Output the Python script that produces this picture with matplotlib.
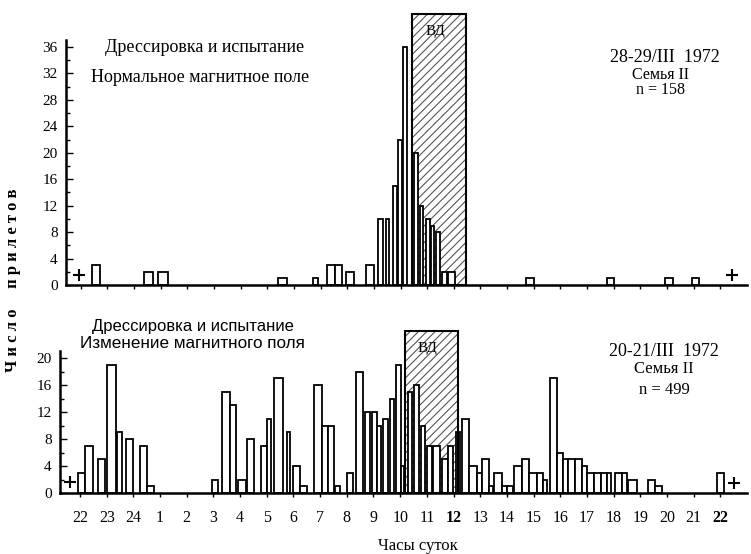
import matplotlib
matplotlib.use("Agg")
import matplotlib.pyplot as plt

plt.rcParams['font.family'] = ['Liberation Serif', 'DejaVu Serif']
plt.rcParams['hatch.linewidth'] = 0.8

# hours counted from 22:00 (0 = 22, 24 = 22 next day)
hour_labels = ['22', '23', '24', '1', '2', '3', '4', '5', '6', '7', '8', '9', '10',
               '11', '12', '13', '14', '15', '16', '17', '18', '19', '20', '21', '22']

# upper panel: 28-29/III, normal magnetic field
up_t0 = [0.41, 2.36, 2.92, 7.42, 8.70, 9.26, 9.56, 9.94, 10.69, 11.17, 11.44, 11.70,
         11.92, 12.11, 12.49, 12.75, 12.94, 13.15, 13.35, 13.54, 13.80, 16.69, 19.76,
         21.93, 22.95]
up_t1 = [0.71, 2.70, 3.26, 7.76, 8.92, 9.56, 9.82, 10.24, 10.99, 11.36, 11.55, 11.85,
         12.07, 12.26, 12.64, 12.86, 13.12, 13.27, 13.50, 13.76, 14.06, 16.99, 20.02,
         22.24, 23.21]
up_n = [3, 2, 2, 1, 1, 3, 3, 2, 3, 10, 10, 15,
        22, 36, 20, 12, 10, 9, 8, 2, 2, 1, 1,
        1, 1]
up_cross_t = [-0.07, 24.45]
up_cross_n = [1.5, 1.5]
up_vd = (12.45, 14.47, 41)

# lower panel: 20-21/III, changed magnetic field
lo_t0 = [-0.07, 0.19, 0.67, 1.01, 1.39, 1.72, 2.25, 2.51, 4.95, 5.32, 5.62, 5.92,
         6.26, 6.79, 7.01, 7.27, 7.76, 7.99, 8.25, 8.77, 9.07, 9.30, 9.56, 10.01,
         10.35, 10.69, 10.95, 11.14, 11.36, 11.62, 11.85, 12.04, 12.30, 12.52, 12.79,
         13.01, 13.24, 13.57, 13.80, 14.10, 14.32, 14.59, 14.89, 15.07, 15.34, 15.52,
         15.82, 16.01, 16.27, 16.57, 16.84, 17.14, 17.36, 17.62, 17.89, 18.11, 18.30,
         18.56, 18.82, 19.01, 19.27, 19.54, 19.76, 20.06, 20.32, 20.55, 21.30, 21.56,
         23.89]
lo_t1 = [0.19, 0.49, 0.94, 1.35, 1.57, 1.99, 2.51, 2.77, 5.17, 5.62, 5.85, 6.22,
         6.52, 7.01, 7.16, 7.61, 7.87, 8.25, 8.51, 9.07, 9.30, 9.52, 9.75, 10.24,
         10.61, 10.87, 11.14, 11.29, 11.55, 11.77, 12.04, 12.15, 12.45, 12.71, 12.94,
         13.20, 13.50, 13.80, 13.99, 14.25, 14.59, 14.89, 15.07, 15.34, 15.49, 15.82,
         16.01, 16.24, 16.57, 16.84, 17.14, 17.36, 17.51, 17.89, 18.11, 18.30, 18.56,
         18.82, 19.01, 19.27, 19.54, 19.76, 19.91, 20.32, 20.51, 20.89, 21.56, 21.82,
         24.15]
lo_n = [3, 7, 5, 19, 9, 8, 7, 1, 2, 15, 13, 2,
        8, 7, 11, 17, 9, 4, 1, 16, 10, 10, 1, 3,
        18, 12, 12, 10, 11, 14, 19, 4, 15, 16, 10,
        7, 7, 5, 7, 9, 11, 4, 3, 5, 1, 3,
        1, 1, 4, 5, 3, 3, 2, 17, 6, 5, 5,
        5, 4, 3, 3, 3, 3, 3, 3, 2, 2, 1,
        3]
lo_cross_t = [-0.37, 24.5]
lo_cross_n = [1.6, 1.5]
lo_vd = (12.19, 14.17, 24)

W, H = 751, 554
fig = plt.figure(figsize=(W / 100, H / 100), dpi=100)
ax1 = fig.add_axes([66 / W, 269 / H, 681 / W, 244.6 / H])
ax2 = fig.add_axes([60 / W, 61 / H, 687 / W, 141.75 / H])


def draw_panel(ax, t0, t1, n, cross_t, cross_n, vd, ymax, ytop):
    w = [b - a for a, b in zip(t0, t1)]
    # hatched "ВД" box
    ax.bar(vd[0], vd[2], width=vd[1] - vd[0], align='edge', facecolor='white',
           edgecolor='#555555', hatch='////', linewidth=0, zorder=1, clip_on=False)
    ax.bar(vd[0], vd[2], width=vd[1] - vd[0], align='edge', fill=False,
           edgecolor='black', linewidth=1.5, zorder=3, clip_on=False)
    ax.bar(t0, n, width=w, align='edge', color='white', edgecolor='black',
           linewidth=1.3, zorder=2)
    ax.plot(cross_t, cross_n, ls='none', marker='+', ms=8, mew=1.5, color='black',
            zorder=4, clip_on=False)
    ax.text((vd[0] + vd[1]) / 2 - 0.15, vd[2] - 2.6, 'ВД', ha='center', va='center',
            fontsize=11, zorder=5)
    ax.set_ylim(0, ymax)
    ax.set_yticks(range(0, ytop + 1, 4))
    ax.set_yticks(range(0, ytop + 1, 2), minor=True)
    ax.set_xticks(range(25))
    for s in ['top', 'right']:
        ax.spines[s].set_visible(False)
    for s in ['left', 'bottom']:
        ax.spines[s].set_linewidth(1.8)
    ax.tick_params(axis='y', direction='in', length=5, width=1, labelsize=11, pad=6)
    ax.tick_params(axis='y', which='minor', direction='in', length=3, width=1)
    ax.tick_params(axis='x', direction='out', length=3, width=1, labelsize=11.5)


draw_panel(ax1, up_t0, up_t1, up_n, up_cross_t, up_cross_n, up_vd, 37, 36)
ax1.set_xlim(-0.55, 25.0)
ax1.set_xticklabels([])

draw_panel(ax2, lo_t0, lo_t1, lo_n, lo_cross_t, lo_cross_n, lo_vd, 21, 20)
ax2.set_xlim(-0.75, 25.0)
ax2.set_xticklabels(hour_labels)
for i in (14, 24):
    ax2.get_xticklabels()[i].set_fontweight('bold')
ax2.tick_params(axis='x', pad=9)


def ftext(x, y, s, **kw):
    fig.text(x / W, 1 - y / H, s, ha='center', va='center', **kw)


ftext(205, 47, 'Дрессировка и испытание', fontsize=13)
ftext(200, 77, 'Нормальное магнитное поле', fontsize=13)
ftext(665, 58, '28-29/III  1972', fontsize=13)
ftext(660, 75, 'Семья II', fontsize=11.5)
ftext(660, 90, 'n = 158', fontsize=11.5)

sans = ['Liberation Sans', 'DejaVu Sans']
ftext(193, 327, 'Дрессировка и испытание', fontsize=12, family=sans)
ftext(192, 343, 'Изменение магнитного поля', fontsize=12.3, family=sans)
ftext(664, 352, '20-21/III  1972', fontsize=13)
ftext(664, 369, 'Семья II', fontsize=12)
ftext(664, 390, 'n = 499', fontsize=12)

ftext(13, 280, 'Ч и с л о     п р и л е т о в', fontsize=12, rotation=90,
      fontweight='bold')
ftext(418, 546, 'Часы суток', fontsize=12)

fig.savefig('out.png', dpi=100)
